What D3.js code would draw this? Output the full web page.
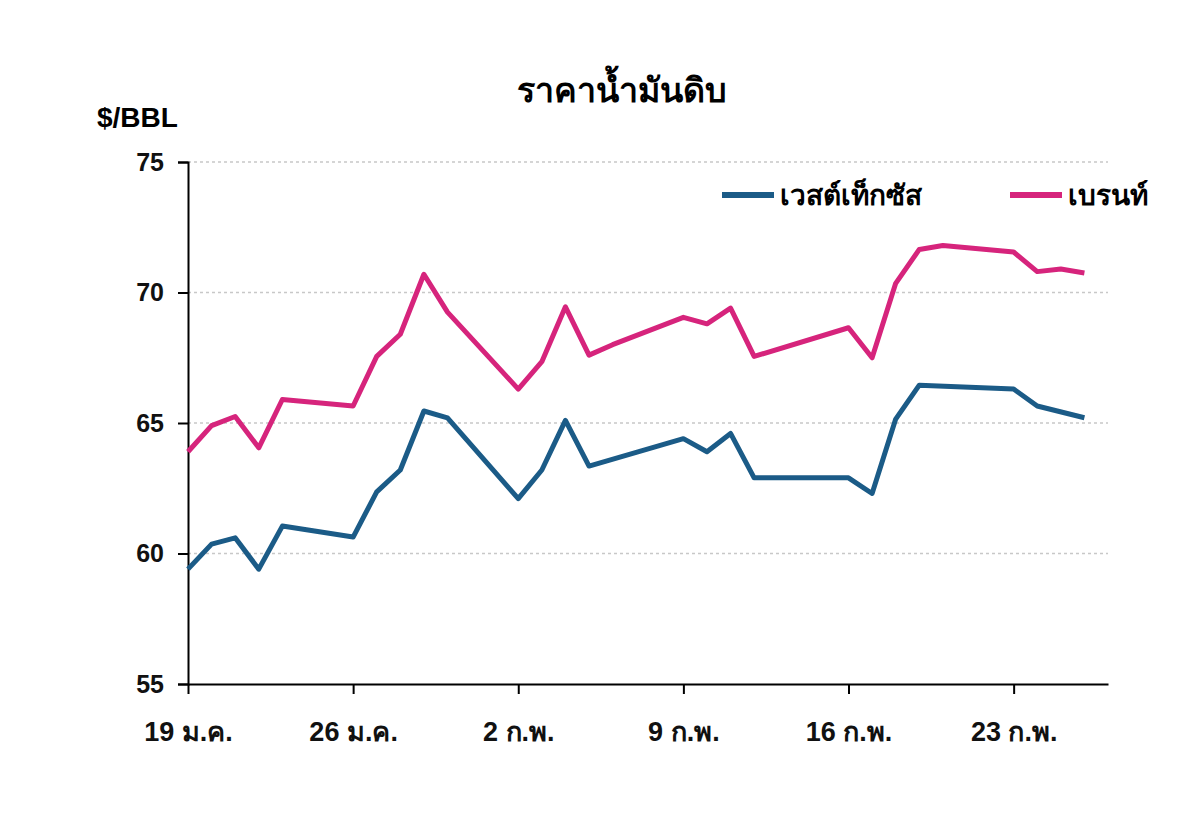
<!DOCTYPE html>
<html><head><meta charset="utf-8">
<script src="https://cdn.jsdelivr.net/npm/d3@7"></script>
<style>body{margin:0;background:#fff;font-family:Arial,"Liberation Sans",sans-serif}</style>
</head><body><div id="chart"></div>
<script>
// data
const wtiDates = ["2015-01-19","2015-01-20","2015-01-21","2015-01-22","2015-01-23","2015-01-26","2015-01-27","2015-01-28","2015-01-29","2015-01-30","2015-02-02","2015-02-03","2015-02-04","2015-02-05","2015-02-09","2015-02-10","2015-02-11","2015-02-12","2015-02-16","2015-02-17","2015-02-18","2015-02-19","2015-02-23","2015-02-24","2015-02-26"];
const wtiValues = [59.4,60.36,60.6,59.4,61.05,60.63,62.36,63.2,65.46,65.2,62.1,63.2,65.1,63.35,64.4,63.9,64.6,62.9,62.9,62.3,65.15,66.45,66.3,65.65,65.2];
const brentDates = ["2015-01-19","2015-01-20","2015-01-21","2015-01-22","2015-01-23","2015-01-26","2015-01-27","2015-01-28","2015-01-29","2015-01-30","2015-02-02","2015-02-03","2015-02-04","2015-02-05","2015-02-06","2015-02-09","2015-02-10","2015-02-11","2015-02-12","2015-02-16","2015-02-17","2015-02-18","2015-02-19","2015-02-20","2015-02-23","2015-02-24","2015-02-25","2015-02-26"];
const brentValues = [63.9,64.9,65.25,64.05,65.9,65.65,67.55,68.4,70.7,69.25,66.3,67.35,69.45,67.6,68.0,69.05,68.8,69.4,67.55,68.65,67.5,70.35,71.65,71.8,71.55,70.8,70.9,70.75];
const tickDates = ["2015-01-19","2015-01-26","2015-02-02","2015-02-09","2015-02-16","2015-02-23"];
const tickLabels = ["19 ม.ค.","26 ม.ค.","2 ก.พ.","9 ก.พ.","16 ก.พ.","23 ก.พ."];
const yTicks = [55,60,65,70,75];

const parse = d3.utcParse("%Y-%m-%d");
const svg = d3.select("#chart").append("svg").attr("width",1200).attr("height",840);
const font = "Arial, 'Liberation Sans', sans-serif";

const x = d3.scaleUtc().domain([parse("2015-01-19"), parse("2015-02-27")]).range([188,1108]);
const y = d3.scaleLinear().domain([55,75]).range([684,162]);

// grid
svg.append("g").selectAll("line").data(yTicks.filter(d=>d>55)).join("line")
  .attr("x1",188).attr("x2",1108).attr("y1",d=>y(d)).attr("y2",d=>y(d))
  .attr("stroke","#c8c8c8").attr("stroke-width",1.5).attr("stroke-dasharray","3,3");

// y axis
const ya = svg.append("g").attr("transform","translate(188,0)")
  .call(d3.axisLeft(y).tickValues(yTicks).tickSize(10).tickPadding(14));
ya.select(".domain").attr("stroke","#000").attr("stroke-width",2);
ya.selectAll(".tick line").attr("stroke","#000").attr("stroke-width",2);
ya.selectAll("text").attr("font-size",25).attr("font-weight","bold").attr("font-family",font).attr("fill","#111");

// x axis
const xa = svg.append("g").attr("transform","translate(0,684)")
  .call(d3.axisBottom(x).tickValues(tickDates.map(parse)).tickSize(10).tickPadding(38)
    .tickFormat((d,i)=>tickLabels[i]).tickSizeOuter(0));
xa.select(".domain").attr("stroke","#000").attr("stroke-width",2);
xa.selectAll(".tick line").attr("stroke","#000").attr("stroke-width",2);
xa.selectAll("text").attr("font-size",27).attr("font-weight","bold").attr("font-family",font).attr("fill","#111").attr("dy","0.35em");

// lines
const line = d3.line().x(d=>x(d[0])).y(d=>y(d[1]));
svg.append("path").datum(brentDates.map((d,i)=>[parse(d),brentValues[i]]))
  .attr("d",line).attr("fill","none").attr("stroke","#d6247c").attr("stroke-width",5).attr("stroke-linejoin","round");
svg.append("path").datum(wtiDates.map((d,i)=>[parse(d),wtiValues[i]]))
  .attr("d",line).attr("fill","none").attr("stroke","#1b5b87").attr("stroke-width",5).attr("stroke-linejoin","round");

// titles
svg.append("text").attr("x",622).attr("y",102).attr("text-anchor","middle")
  .attr("font-size",34).attr("font-weight","bold").attr("font-family","'Noto Sans', sans-serif").text("ราคาน้ำมันดิบ");
svg.append("text").attr("x",97).attr("y",127)
  .attr("font-size",28).attr("font-weight","bold").attr("font-family",font).text("$/BBL");

// legend
const legend = [["เวสต์เท็กซัส","#1b5b87",722],["เบรนท์","#d6247c",1010]];
legend.forEach(([t,c,lx])=>{
  svg.append("line").attr("x1",lx).attr("x2",lx+52).attr("y1",195).attr("y2",195).attr("stroke",c).attr("stroke-width",6);
  svg.append("text").attr("x",lx+58).attr("y",205).attr("font-size",28).attr("font-weight","bold")
    .attr("font-family","'Noto Sans', sans-serif").text(t);
});
</script></body></html>
